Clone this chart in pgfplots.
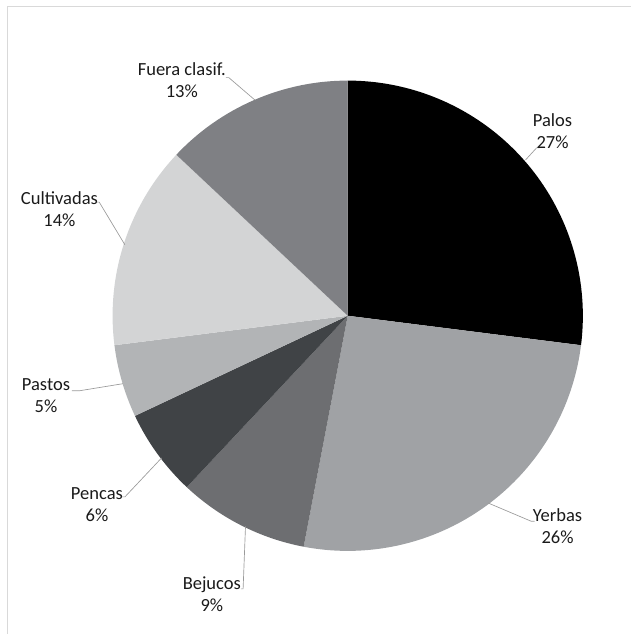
\documentclass[border=0pt]{standalone}
\usepackage{pgfplots}
\pgfplotsset{compat=1.18}
\usepackage{pgfplotstable}
\usepackage{fontspec}
\setmainfont{Carlito}
\definecolor{c1}{HTML}{000000}
\definecolor{c2}{HTML}{A0A2A5}
\definecolor{c3}{HTML}{6D6E71}
\definecolor{c4}{HTML}{404346}
\definecolor{c5}{HTML}{B2B4B6}
\definecolor{c6}{HTML}{D3D4D5}
\definecolor{c7}{HTML}{7F8084}
\definecolor{framegray}{HTML}{D9D9D9}
\definecolor{leadgray}{HTML}{9A9A9A}
\definecolor{txt}{HTML}{1A1A1A}
\tikzset{lab/.style={font=\fontsize{13.9pt}{16.5pt}\selectfont,text=txt,align=center,inner sep=0pt}}
\pgfplotstableread[col sep=comma]{
label,value,col
Palos,27,c1
Yerbas,26,c2
Bejucos,9,c3
Pencas,6,c4
Pastos,5,c5
Cultivadas,14,c6
Fuera clasif.,13,c7
}\piedata
\begin{document}
\begin{tikzpicture}
\begin{axis}[x=0.75pt,y=0.75pt,xmin=0,xmax=631,ymin=0,ymax=634,
  hide axis,clip=false,scale only axis]
\path (axis cs:0,0) (axis cs:631,634);
\draw[framegray,line width=0.75pt] (axis cs:8,0) -- (axis cs:8,627) -- (axis cs:631,627);
\xdef\cum{0}
\foreach \i in {0,...,6}{
  \pgfplotstablegetelem{\i}{value}\of\piedata \let\sliceval\pgfplotsretval
  \pgfplotstablegetelem{\i}{col}\of\piedata \let\slicecol\pgfplotsretval
  \pgfmathsetmacro\sa{90-3.6*\cum}
  \pgfmathsetmacro\ea{90-3.6*(\cum+\sliceval)}
  \edef\cmd{\noexpand\fill[\slicecol] (axis cs:348,318) -- ++(\sa:176.5pt) arc[start angle=\sa, end angle=\ea, radius=176.5pt] -- cycle;}
  \cmd
  \pgfmathsetmacro\newcum{\cum+\sliceval}
  \global\let\cum\newcum
}
% leader lines
\draw[leadgray,line width=0.5pt] (axis cs:540,486) -- (axis cs:537,486) -- (axis cs:526,474);
\draw[leadgray,line width=0.5pt] (axis cs:535,112.3) -- (axis cs:531.7,112.3) -- (axis cs:488.3,130.7);
\draw[leadgray,line width=0.5pt] (axis cs:241,44.7) -- (axis cs:243.3,44.7) -- (axis cs:245.7,107.3);
\draw[leadgray,line width=0.5pt] (axis cs:121.7,136.7) -- (axis cs:125,136.7) -- (axis cs:161.7,175.7);
\draw[leadgray,line width=0.5pt] (axis cs:72,243) -- (axis cs:80,243) -- (axis cs:123,250);
\draw[leadgray,line width=0.5pt] (axis cs:96.7,431.7) -- (axis cs:99.3,431.7) -- (axis cs:125,389);
\draw[leadgray,line width=0.5pt] (axis cs:226,556.3) -- (axis cs:229,556.3) -- (axis cs:255,534);
% labels
\node[lab] at (axis cs:553,502.5) {Palos\\27\%};
\node[lab] at (axis cs:558,107) {Yerbas\\26\%};
\node[lab] at (axis cs:212,39.5) {Bejucos\\9\%};
\node[lab] at (axis cs:97,129) {Pencas\\6\%};
\node[lab] at (axis cs:46,238) {Pastos\\5\%};
\node[lab] at (axis cs:59.5,424.5) {Cultivadas\\14\%};
\node[lab] at (axis cs:182,553.5) {Fuera clasif.\\13\%};
\end{axis}
\end{tikzpicture}
\end{document}
